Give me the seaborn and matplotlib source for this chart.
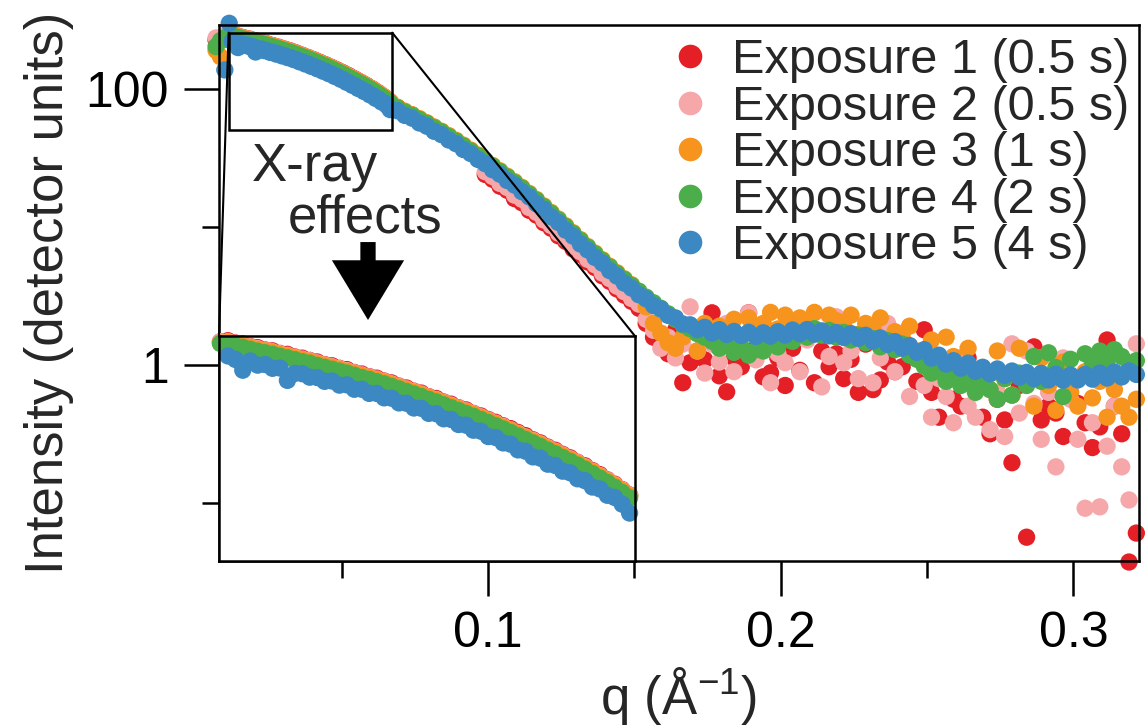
import numpy as np
import pandas as pd
import seaborn as sns
import matplotlib.pyplot as plt
from matplotlib.lines import Line2D
from matplotlib.patches import Rectangle, ConnectionPatch
from matplotlib.ticker import NullFormatter, NullLocator

nan = np.nan

# scattering vector q (1/A), shared by all five exposures
q = [0.0070, 0.0085, 0.0100, 0.0115,
     0.0125, 0.0135, 0.0145, 0.0155, 0.0165, 0.0175, 0.0185, 0.0195, 0.0205, 0.0215,
     0.0225, 0.0235, 0.0245, 0.0255, 0.0265, 0.0275, 0.0285, 0.0295, 0.0305, 0.0315,
     0.0325, 0.0335, 0.0345, 0.0355, 0.0365, 0.0375, 0.0385, 0.0395, 0.0405, 0.0415,
     0.0425, 0.0435, 0.0445, 0.0455, 0.0465, 0.0475, 0.0485, 0.0495, 0.0505, 0.0515,
     0.0525, 0.0535, 0.0545, 0.0555, 0.0565, 0.0575, 0.0585, 0.0595, 0.0605, 0.0615,
     0.0625, 0.0635, 0.0645, 0.0655, 0.0665,
     0.0690, 0.0715, 0.0740, 0.0765, 0.0790, 0.0815, 0.0840, 0.0865, 0.0890, 0.0915,
     0.0940, 0.0965, 0.0990, 0.1015, 0.1040, 0.1065, 0.1090, 0.1115, 0.1140, 0.1165,
     0.1190, 0.1215, 0.1240, 0.1265, 0.1290, 0.1315, 0.1340, 0.1365, 0.1390, 0.1415,
     0.1440, 0.1465, 0.1490, 0.1515, 0.1540, 0.1565, 0.1590, 0.1615, 0.1640, 0.1665,
     0.1690, 0.1715, 0.1740, 0.1765, 0.1790, 0.1815, 0.1840, 0.1865, 0.1890, 0.1915,
     0.1940, 0.1965, 0.1990, 0.2015, 0.2040, 0.2065, 0.2090, 0.2115, 0.2140, 0.2165,
     0.2190, 0.2215, 0.2240, 0.2265, 0.2290, 0.2315, 0.2340, 0.2365, 0.2390, 0.2415,
     0.2440, 0.2465, 0.2490, 0.2515, 0.2540, 0.2565, 0.2590, 0.2615, 0.2640, 0.2665,
     0.2690, 0.2715, 0.2740, 0.2765, 0.2790, 0.2815, 0.2840, 0.2865, 0.2890, 0.2915,
     0.2940, 0.2965, 0.2990, 0.3015, 0.3040, 0.3065, 0.3090, 0.3115, 0.3140, 0.3165,
     0.3190, 0.3215]

# intensities, stored as log10(I)
log_exp1 = [2.355, 2.370, 2.380, 2.390,
            2.393, 2.386, 2.383, 2.375, 2.371, 2.364, 2.361, 2.353, 2.350, 2.342,
            2.338, 2.331, 2.326, 2.318, 2.314, 2.306, 2.302, 2.293, 2.288, 2.280,
            2.275, 2.266, 2.260, 2.250, 2.244, 2.234, 2.228, 2.217, 2.211, 2.200,
            2.193, 2.182, 2.175, 2.164, 2.156, 2.145, 2.136, 2.125, 2.116, 2.104,
            2.094, 2.081, 2.071, 2.058, 2.048, 2.035, 2.024, 2.010, 1.999, 1.984,
            1.971, 1.955, 1.941, 1.924, 1.907,
            1.866, 1.835, 1.811, 1.781, 1.752, 1.721, 1.690, 1.658, 1.624, 1.588,
            1.553, 1.517, 1.380, 1.345, 1.295, 1.265, 1.205, 1.175, 1.120, 1.085,
            1.030, 0.990, 0.935, 0.895, 0.840, 0.800, 0.745, 0.705, 0.645, 0.605,
            0.550, 0.505, 0.460, 0.410, 0.300, 0.200, 0.160, 0.080, 0.250, -0.130,
            0.015, 0.100, 0.036, 0.377, -0.080, -0.196, 0.050, -0.014, 0.377, 0.120,
            -0.087, -0.058, 0.050, -0.150, 0.120, -0.040, 0.200, -0.130, 0.100, -0.014,
            0.080, -0.100, 0.040, -0.200, 0.150, -0.180, -0.110, 0.020, -0.050, -0.014,
            0.100, -0.120, 0.254, -0.200, -0.380, -0.100, -0.250, -0.300, 0.050, -0.180,
            -0.380, -0.500, -0.250, -0.400, -0.710, -0.150, -1.250, 0.130, -0.400, -0.300,
            -0.350, -0.520, -0.200, -0.280, -0.420, -0.600, -0.450, 0.180, -0.300, -0.500,
            -1.430, -1.220]

log_exp2 = [2.370, 2.360, 2.385, 2.390,
            2.390, 2.385, 2.380, 2.374, 2.368, 2.363, 2.358, 2.352, 2.347, 2.341,
            2.335, 2.330, 2.323, 2.317, 2.311, 2.305, 2.299, 2.292, 2.285, 2.279,
            2.272, 2.265, 2.257, 2.249, 2.241, 2.233, 2.225, 2.216, 2.208, 2.199,
            2.190, 2.181, 2.172, 2.163, 2.153, 2.143, 2.133, 2.123, 2.112, 2.101,
            2.090, 2.079, 2.068, 2.056, 2.045, 2.033, 2.021, 2.009, 1.996, 1.982,
            1.968, 1.954, 1.939, 1.923, 1.906,
            1.858, 1.830, 1.805, 1.776, 1.746, 1.716, 1.685, 1.652, 1.618, 1.583,
            1.547, 1.511, 1.400, 1.365, 1.315, 1.285, 1.230, 1.200, 1.140, 1.105,
            1.050, 1.010, 0.955, 0.915, 0.860, 0.820, 0.765, 0.725, 0.665, 0.625,
            0.570, 0.530, 0.480, 0.440, 0.330, 0.250, 0.120, 0.200, 0.050, 0.150,
            0.420, 0.100, -0.060, 0.150, 0.020, 0.300, -0.050, 0.120, 0.377, 0.036,
            0.200, -0.130, 0.080, 0.015, 0.250, -0.050, 0.180, 0.377, -0.160, 0.060,
            0.348, 0.015, 0.100, -0.100, 0.220, -0.130, 0.050, 0.300, -0.050, 0.150,
            -0.230, 0.080, -0.150, -0.380, -0.100, -0.230, -0.420, 0.050, -0.300, -0.380,
            -0.150, -0.470, -0.200, -0.520, 0.152, -0.350, 0.100, -0.280, -0.540, -0.200,
            -0.740, 0.050, -0.250, -0.540, -1.040, -0.420, -1.030, -0.590, -0.300, -0.740,
            -0.980, 0.152]

log_exp3 = [2.280, 2.234, 2.360, 2.386,
            2.388, 2.383, 2.378, 2.372, 2.366, 2.361, 2.356, 2.350, 2.345, 2.339,
            2.333, 2.328, 2.321, 2.315, 2.309, 2.303, 2.297, 2.290, 2.283, 2.277,
            2.270, 2.263, 2.255, 2.247, 2.239, 2.231, 2.223, 2.214, 2.206, 2.197,
            2.188, 2.179, 2.170, 2.161, 2.151, 2.141, 2.131, 2.121, 2.110, 2.099,
            2.088, 2.077, 2.066, 2.054, 2.043, 2.031, 2.019, 2.007, 1.994, 1.980,
            1.966, 1.952, 1.937, 1.921, 1.904,
            1.867, 1.839, 1.813, 1.785, 1.755, 1.725, 1.694, 1.662, 1.628, 1.593,
            1.557, 1.521, 1.483, 1.446, 1.407, 1.368, 1.328, 1.287, 1.243, 1.199,
            1.152, 1.105, 1.057, 1.008, 0.958, 0.908, 0.858, 0.810, 0.762, 0.715,
            0.668, 0.624, 0.581, 0.520, 0.420, 0.300, 0.230, 0.160, 0.120, 0.200,
            0.250, 0.100, 0.300, 0.180, 0.280, 0.150, 0.330, 0.200, 0.340, 0.260,
            0.300, 0.380, 0.260, 0.360, 0.280, 0.340, 0.300, 0.380, 0.240, 0.360,
            0.320, 0.280, 0.360, 0.220, 0.300, 0.260, 0.340, 0.180, 0.240, 0.200,
            0.280, 0.100, 0.050, 0.180, -0.050, 0.200, 0.060, -0.080, 0.120, -0.150,
            -0.020, -0.180, 0.100, -0.100, -0.220, 0.120, -0.060, -0.300, 0.050, -0.150,
            -0.330, 0.020, -0.200, -0.300, -0.050, -0.240, -0.120, -0.380, -0.180, -0.300,
            -0.380, -0.250]

log_exp4 = [2.307, 2.350, 2.372, 2.384,
            2.382, 2.377, 2.372, 2.366, 2.360, 2.355, 2.350, 2.344, 2.339, 2.333,
            2.327, 2.322, 2.315, 2.309, 2.303, 2.297, 2.291, 2.284, 2.277, 2.271,
            2.264, 2.257, 2.249, 2.241, 2.233, 2.225, 2.217, 2.208, 2.200, 2.191,
            2.182, 2.173, 2.164, 2.155, 2.145, 2.135, 2.125, 2.115, 2.104, 2.093,
            2.082, 2.071, 2.060, 2.048, 2.037, 2.025, 2.013, 2.001, 1.988, 1.974,
            1.960, 1.946, 1.931, 1.915, 1.898,
            1.862, 1.832, 1.808, 1.778, 1.750, 1.718, 1.689, 1.655, 1.622, 1.587,
            1.551, 1.515, 1.477, 1.440, 1.401, 1.362, 1.322, 1.281, 1.237, 1.193,
            1.146, 1.099, 1.051, 1.002, 0.952, 0.902, 0.852, 0.804, 0.756, 0.709,
            0.662, 0.618, 0.575, 0.534, 0.490, 0.450, 0.410, 0.370, 0.330, 0.290,
            0.262, 0.225, 0.200, 0.170, 0.120, 0.150, 0.090, 0.130, 0.070, 0.110,
            0.100, 0.150, 0.130, 0.190, 0.170, 0.230, 0.200, 0.262, 0.215, 0.250,
            0.200, 0.235, 0.180, 0.215, 0.160, 0.190, 0.130, 0.175, 0.110, 0.150,
            0.070, 0.040, -0.010, -0.060, -0.040, -0.120, -0.080, -0.150, -0.100, -0.200,
            -0.130, -0.180, -0.250, -0.100, -0.220, -0.060, -0.150, 0.060, -0.120, 0.087,
            -0.020, -0.230, 0.040, -0.100, 0.080, 0.020, 0.100, 0.030, 0.110, 0.060,
            0.010, 0.030]

log_exp5 = [nan, nan, 2.138, 2.476,
            2.345, 2.334, 2.300, 2.329, 2.316, 2.318, 2.306, 2.307, 2.268, 2.290,
            2.289, 2.278, 2.277, 2.265, 2.266, 2.253, 2.254, 2.240, 2.240, 2.227,
            2.227, 2.213, 2.212, 2.197, 2.196, 2.181, 2.180, 2.164, 2.163, 2.147,
            2.145, 2.129, 2.127, 2.111, 2.108, 2.091, 2.088, 2.071, 2.067, 2.049,
            2.045, 2.027, 2.023, 2.004, 2.000, 1.982, 1.977, 1.958, 1.952, 1.932,
            1.926, 1.906, 1.899, 1.878, 1.850,
            1.842, 1.808, 1.788, 1.753, 1.730, 1.693, 1.669, 1.630, 1.603, 1.561,
            1.532, 1.489, 1.458, 1.414, 1.382, 1.336, 1.303, 1.255, 1.218, 1.167,
            1.127, 1.073, 1.032, 0.976, 0.933, 0.876, 0.833, 0.778, 0.737, 0.683,
            0.643, 0.592, 0.556, 0.508, 0.478, 0.430, 0.405, 0.358, 0.340, 0.296,
            0.290, 0.255, 0.272, 0.230, 0.255, 0.220, 0.242, 0.212, 0.236, 0.205,
            0.232, 0.208, 0.240, 0.215, 0.252, 0.226, 0.256, 0.222, 0.246, 0.210,
            0.234, 0.198, 0.226, 0.192, 0.214, 0.172, 0.195, 0.148, 0.168, 0.120,
            0.140, 0.090, 0.110, 0.048, 0.070, 0.005, 0.030, -0.025, 0.012, -0.048,
            -0.018, -0.066, -0.030, -0.078, -0.045, -0.090, -0.055, -0.100, -0.062, -0.110,
            -0.068, -0.112, -0.074, -0.110, -0.070, -0.104, -0.060, -0.096, -0.052, -0.088,
            -0.044, -0.070]

labels = ['Exposure 1 (0.5 s)', 'Exposure 2 (0.5 s)', 'Exposure 3 (1 s)',
          'Exposure 4 (2 s)', 'Exposure 5 (4 s)']
colors = ['#E41F26', '#F6A7A9', '#F7941E', '#4CAE4A', '#3C88C2']

# zoomed region shown in the inset
zoom_q = (0.0113, 0.0672)
zoom_i = (50, 256)

sns.set_theme(style='ticks')
plt.rcParams['font.family'] = ['Liberation Sans', 'DejaVu Sans']
plt.rcParams['mathtext.fontset'] = 'custom'
plt.rcParams['mathtext.rm'] = 'Liberation Sans'
plt.rcParams['mathtext.it'] = 'Liberation Sans:italic'

frames = []
for lab, vals in zip(labels, [log_exp1, log_exp2, log_exp3, log_exp4, log_exp5]):
    frames.append(pd.DataFrame({'q': q, 'I': 10 ** np.array(vals, dtype=float), 'exposure': lab}))
df = pd.concat(frames, ignore_index=True).dropna()
pal = dict(zip(labels, colors))
msize = 155

fig = plt.figure(figsize=(11.47, 7.28), dpi=100)
ax = fig.add_axes([0.1909, 0.2294, 0.8021, 0.7363])
sns.scatterplot(data=df, x='q', y='I', hue='exposure', palette=pal, s=msize,
                linewidth=0, legend=False, clip_on=False, ax=ax)
ax.set_yscale('log')
ax.set_xlim(0.008, 0.3224)
ax.set_ylim(0.0378, 291)

ax.set_xticks([0.1, 0.2, 0.3], labels=['0.1', '0.2', '0.3'])
ax.set_xticks([0.05, 0.15, 0.25], minor=True)
ax.set_yticks([1, 100], labels=['1', '100'])
ax.set_yticks([0.1, 10], minor=True)
ax.yaxis.set_minor_formatter(NullFormatter())
ax.tick_params(which='both', direction='out', width=1.8, colors='black', labelsize=36)
ax.tick_params(which='major', length=25)
ax.tick_params(which='minor', length=12.5)
ax.tick_params(axis='x', pad=11)
ax.tick_params(axis='y', pad=11)
for sp in ax.spines.values():
    sp.set_linewidth(1.8)
    sp.set_color('black')
ax.set_xlabel('q (Å$^{-1}$)', fontsize=38, labelpad=6)
ax.set_ylabel('Intensity (detector units)', fontsize=38, labelpad=8)

# inset with the low-q data
axins = ax.inset_axes([0, 0, 0.452, 0.42])
sub = df[(df.q >= zoom_q[0]) & (df.q <= zoom_q[1]) & (df.I >= zoom_i[0]) & (df.I <= zoom_i[1])]
sns.scatterplot(data=sub, x='q', y='I', hue='exposure', palette=pal, s=msize,
                linewidth=0, legend=False, clip_on=False, ax=axins)
axins.set_yscale('log')
axins.set_xlim(zoom_q)
axins.set_ylim(zoom_i)
axins.set_xticks([])
axins.set_yticks([])
axins.yaxis.set_minor_locator(NullLocator())
axins.set_xlabel('')
axins.set_ylabel('')
axins.set_facecolor('white')
for sp in axins.spines.values():
    sp.set_linewidth(1.8)
    sp.set_color('black')

rect = Rectangle((zoom_q[0], zoom_i[0]), zoom_q[1] - zoom_q[0], zoom_i[1] - zoom_i[0],
                 fill=False, ec='black', lw=1.8, zorder=6)
ax.add_patch(rect)
for xa, xb in [(zoom_q[0], 0), (zoom_q[1], 1)]:
    con = ConnectionPatch(xyA=(xa, zoom_i[1]), coordsA=ax.transData,
                          xyB=(xb, 1), coordsB=axins.transAxes,
                          color='black', lw=1.5, zorder=6)
    ax.add_artist(con)

ax.text(0.036, 0.708, 'X-ray', transform=ax.transAxes, fontsize=38, va='baseline')
ax.text(0.075, 0.612, 'effects', transform=ax.transAxes, fontsize=38, va='baseline')
ax.annotate('', xy=(0.162, 0.4496), xytext=(0.162, 0.595), xycoords='axes fraction',
            arrowprops=dict(arrowstyle='simple,head_length=43,head_width=52,tail_width=11',
                            mutation_scale=1, fc='black', ec='none', shrinkA=0, shrinkB=0))

handles = [Line2D([], [], ls='none', marker='o', ms=17, mfc=c, mec='none') for c in colors]
ax.legend(handles, labels, loc='upper right', bbox_to_anchor=(0.989, 0.975), frameon=False,
          fontsize=35, handlelength=1.0, handletextpad=0.36, labelspacing=0.03,
          borderaxespad=0, borderpad=0)

fig.savefig('out.png', dpi=100)
